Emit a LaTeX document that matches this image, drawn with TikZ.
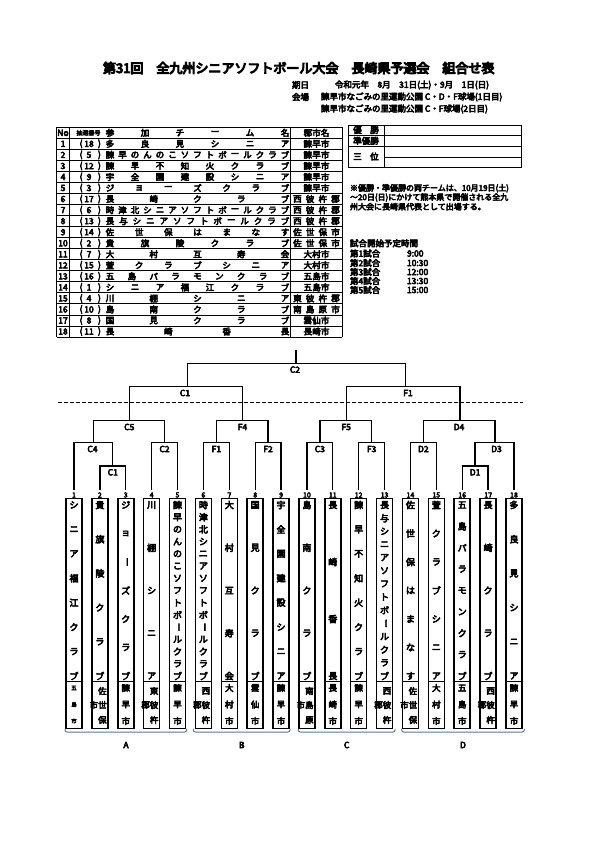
\documentclass[tikz,border=0pt]{standalone}
\usepackage{fontspec}
\usepackage{graphicx}
\setmainfont{Noto Sans CJK JP}[FakeBold=6]
\newfontfamily\ttlfont{Noto Sans CJK JP}[FakeBold=8]
\definecolor{brc}{RGB}{84,120,170}
\newcommand\vb{\rotatebox[origin=c]{-90}{ー}}
% team column: #1 index, #2 x, #3 n chars, #4 char list
\newcommand\teamcol[4]{%
  \coordinate (t#1) at (#2,490);
  \node[numlab] (n#1) at (#2,495) {#1};
  \draw[boxline] (#2-8,498.5) rectangle (#2+8,728.3);
  \draw[boxline] (#2-8,681.7) -- (#2+8,681.7);
  \foreach \ch [count=\k] in {#4} {
    \pgfmathsetmacro\yy{505+(\k-1)*171/(#3-1)}
    \node[vch] (v#1-\k) at (#2,\yy) {\ch};
  }%
}
% 3-char city in team box
\newcommand\cityA[5]{%
  \node[cch] (ca#1-1) at (#2,688) {#3};
  \node[cch] (ca#1-2) at (#2,704.5) {#4};
  \node[cch] (ca#1-3) at (#2,721) {#5};
}
% 4-char city in team box (two vertical columns)
\newcommand\cityB[6]{%
  \node[cch] (cb#1-1) at (#2+2.5,691) {#3};
  \node[cch] (cb#1-2) at (#2+2.5,705) {#4};
  \node[cch] (cb#1-3) at (#2+2.5,720) {#5};
  \node[cch] (cb#1-4) at (#2-6,705) {#6};
}
% table row: #1 no, #2 draw no, #3 n, #4 chars, #5 m, #6 city chars
\newcommand\trow[6]{%
  \pgfmathsetmacro\ry{127.3+11.04*(#1+0.5)}
  \node[tab] (no#1) at (63,\ry) {#1};
  \node[tab] (po#1) at (81,\ry) {(};
  \node[tab] (dn#1) at (89,\ry) {#2};
  \node[tab] (pc#1) at (99.5,\ry) {)};
  \foreach \ch [count=\k] in {#4} {
    \pgfmathsetmacro\xx{110+(\k-1)*175/(#3-1)}
    \node[tab] (tn#1-\k) at (\xx,\ry) {\ch};
  }
  \foreach \ch [count=\k] in {#6} {
    \pgfmathsetmacro\xx{316.5+(\k-(#5+1)/2)*ifthenelse(#5==4,12.7,8.7)}
    \node[tab] (tc#1-\k) at (\xx,\ry) {\ch};
  }%
}
\begin{document}
\begin{tikzpicture}[x=1pt,y=-1pt,
  every node/.style={inner sep=0pt,outer sep=0pt},
  ttl/.style={font=\fontsize{13}{13}\selectfont\ttlfont,anchor=west},
  info/.style={font=\fontsize{8.5}{8.5}\selectfont,anchor=west},
  notetxt/.style={font=\fontsize{8}{8}\selectfont,anchor=west},
  tab/.style={font=\fontsize{8.5}{8.5}\selectfont},
  tabsm/.style={font=\fontsize{6}{6}\selectfont},
  vch/.style={font=\fontsize{9}{9}\selectfont},
  cch/.style={font=\fontsize{8.5}{8.5}\selectfont},
  cchsm/.style={font=\fontsize{5.5}{5.5}\selectfont},
  numlab/.style={font=\fontsize{7}{7}\selectfont},
  mlab/.style={font=\fontsize{8.5}{8.5}\selectfont},
  br/.style={line width=1.3pt},
  boxline/.style={line width=1.5pt},
  tline/.style={line width=0.9pt},
  bluebrace/.style={draw=brc,line width=1pt,rounded corners=2pt},
  dayline/.style={line width=1.2pt,dash pattern=on 4pt off 2pt}]
\fill[white] (0,0) rectangle (595,842);
\useasboundingbox (0,0) rectangle (595,842);

% ---------- title ----------
\node[ttl] (title) at (103,68) {第31回　全九州シニアソフトボール大会　長崎県予選会　組合せ表};
\node[info] (kijitsu) at (292,85) {期日};
\node[info] (date) at (335,85) {令和元年　8月　31日(土)・9月　1日(日)};
\node[info] (kaijo) at (292,97) {会場};
\node[info] (venue1) at (321,97) {諫早市なごみの里運動公園 C・D・F球場(1日目)};
\node[info] (venue2) at (321,109) {諫早市なごみの里運動公園 C・F球場(2日目)};

% ---------- team table ----------
\foreach \i in {0,...,19} {\draw[tline] (56.7,127.3+11.04*\i) -- (342,127.3+11.04*\i);}
\foreach \xv in {56.7,69,290,342} {\draw[tline] (\xv,127.3) -- (\xv,337.06);}
\node[tab] (hno) at (63,132.82) {No};
\node[tabsm] (hdraw) at (88.5,132.82) {抽選番号};
\foreach \ch [count=\k] in {参,加,チ,ー,ム,名} {
  \pgfmathsetmacro\xx{110+(\k-1)*35}
  \node[tab] (hn\k) at (\xx,132.82) {\ch};
}
\node[tab] (hcity) at (316.5,132.82) {郡市名};
\trow{1}{18}{6}{多,良,見,シ,ニ,ア}{3}{諫,早,市}
\trow{2}{5}{15}{諫,早,の,ん,の,こ,ソ,フ,ト,ボ,ー,ル,ク,ラ,ブ}{3}{諫,早,市}
\trow{3}{12}{8}{諫,早,不,知,火,ク,ラ,ブ}{3}{諫,早,市}
\trow{4}{9}{8}{宇,全,園,建,設,シ,ニ,ア}{3}{諫,早,市}
\trow{5}{3}{7}{ジ,ョ,ー,ズ,ク,ラ,ブ}{3}{諫,早,市}
\trow{6}{17}{5}{長,崎,ク,ラ,ブ}{4}{西,彼,杵,郡}
\trow{7}{6}{15}{時,津,北,シ,ニ,ア,ソ,フ,ト,ボ,ー,ル,ク,ラ,ブ}{4}{西,彼,杵,郡}
\trow{8}{13}{14}{長,与,シ,ニ,ア,ソ,フ,ト,ボ,ー,ル,ク,ラ,ブ}{4}{西,彼,杵,郡}
\trow{9}{14}{7}{佐,世,保,は,ま,な,す}{4}{佐,世,保,市}
\trow{10}{2}{6}{貴,旗,陵,ク,ラ,ブ}{4}{佐,世,保,市}
\trow{11}{7}{5}{大,村,互,寿,会}{3}{大,村,市}
\trow{12}{15}{7}{萱,ク,ラ,ブ,シ,ニ,ア}{3}{大,村,市}
\trow{13}{16}{9}{五,島,パ,ラ,モ,ン,ク,ラ,ブ}{3}{五,島,市}
\trow{14}{1}{8}{シ,ニ,ア,福,江,ク,ラ,ブ}{3}{五,島,市}
\trow{15}{4}{5}{川,棚,シ,ニ,ア}{4}{東,彼,杵,郡}
\trow{16}{10}{5}{島,南,ク,ラ,ブ}{4}{南,島,原,市}
\trow{17}{8}{5}{国,見,ク,ラ,ブ}{3}{雲,仙,市}
\trow{18}{11}{4}{長,崎,香,長}{3}{長,崎,市}

% ---------- result box ----------
\draw[tline] (348.3,125) rectangle (521.7,167);
\draw[tline] (348.3,135) -- (521.7,135);
\draw[tline] (348.3,146.5) -- (521.7,146.5);
\draw[tline] (384,157) -- (521.7,157);
\draw[tline] (384,125) -- (384,167);
\node[tab] (win) at (366,130) {優　勝};
\node[tab] (second) at (366,140.8) {準優勝};
\node[tab] (third) at (366,156.5) {三　位};

% ---------- notes ----------
\node[notetxt] (note1) at (350,188.3) {※優勝・準優勝の両チームは、10月19日(土)};
\node[notetxt] (note2) at (350,197.5) {～20日(日)にかけて熊本県で開催される全九};
\node[notetxt] (note3) at (350,206.7) {州大会に長崎県代表として出場する。};
\node[info] (sched) at (350,243.3) {試合開始予定時間};
\node[info] (g1) at (350,253.5) {第1試合};
\node[info] (g2) at (350,263) {第2試合};
\node[info] (g3) at (350,272) {第3試合};
\node[info] (g4) at (350,281) {第4試合};
\node[info] (g5) at (350,290) {第5試合};
\node[info] (h1) at (407,253.5) {9:00};
\node[info] (h2) at (407,263) {10:30};
\node[info] (h3) at (407,272) {12:00};
\node[info] (h4) at (407,281) {13:30};
\node[info] (h5) at (407,290) {15:00};

% ---------- team columns ----------
\teamcol{1}{74}{8}{シ,ニ,ア,福,江,ク,ラ,ブ}
\teamcol{2}{99.88}{6}{貴,旗,陵,ク,ラ,ブ}
\teamcol{3}{125.76}{7}{ジ,ョ,\vb,ズ,ク,ラ,ブ}
\teamcol{4}{151.64}{5}{川,棚,シ,ニ,ア}
\teamcol{5}{177.52}{15}{諫,早,の,ん,の,こ,ソ,フ,ト,ボ,\vb,ル,ク,ラ,ブ}
\teamcol{6}{203.4}{15}{時,津,北,シ,ニ,ア,ソ,フ,ト,ボ,\vb,ル,ク,ラ,ブ}
\teamcol{7}{229.28}{5}{大,村,互,寿,会}
\teamcol{8}{255.16}{5}{国,見,ク,ラ,ブ}
\teamcol{9}{281.04}{8}{宇,全,園,建,設,シ,ニ,ア}
\teamcol{10}{306.92}{5}{島,南,ク,ラ,ブ}
\teamcol{11}{332.8}{4}{長,崎,香,長}
\teamcol{12}{358.68}{8}{諫,早,不,知,火,ク,ラ,ブ}
\teamcol{13}{384.56}{14}{長,与,シ,ニ,ア,ソ,フ,ト,ボ,\vb,ル,ク,ラ,ブ}
\teamcol{14}{410.44}{7}{佐,世,保,は,ま,な,す}
\teamcol{15}{436.32}{7}{萱,ク,ラ,ブ,シ,ニ,ア}
\teamcol{16}{462.2}{9}{五,島,パ,ラ,モ,ン,ク,ラ,ブ}
\teamcol{17}{488.08}{5}{長,崎,ク,ラ,ブ}
\teamcol{18}{513.96}{6}{多,良,見,シ,ニ,ア}

% cities in boxes
\node[cchsm] (ca1-1) at (74,688) {五};
\node[cchsm] (ca1-2) at (74,704.5) {島};
\node[cchsm] (ca1-3) at (74,721) {市};
\cityB{2}{99.88}{佐}{世}{保}{市}
\cityA{3}{125.76}{諫}{早}{市}
\cityB{4}{151.64}{東}{彼}{杵}{郡}
\cityA{5}{177.52}{諫}{早}{市}
\cityB{6}{203.4}{西}{彼}{杵}{郡}
\cityA{7}{229.28}{大}{村}{市}
\cityA{8}{255.16}{雲}{仙}{市}
\cityA{9}{281.04}{諫}{早}{市}
\cityB{10}{306.92}{南}{島}{原}{市}
\cityA{11}{332.8}{長}{崎}{市}
\cityA{12}{358.68}{諫}{早}{市}
\cityB{13}{384.56}{西}{彼}{杵}{郡}
\cityB{14}{410.44}{佐}{世}{保}{市}
\cityA{15}{436.32}{大}{村}{市}
\cityA{16}{462.2}{五}{島}{市}
\cityB{17}{488.08}{西}{彼}{杵}{郡}
\cityA{18}{513.96}{諫}{早}{市}

% ---------- bracket ----------
\coordinate (mC1a) at (112.82,466);
\coordinate (mC4) at (93.41,442.7);
\coordinate (mC2a) at (164.58,442.7);
\coordinate (mC5) at (129.3,420.7);
\coordinate (mF1a) at (216.34,442.7);
\coordinate (mF2) at (268.1,442.7);
\coordinate (mF4) at (242.5,420.7);
\coordinate (mC3) at (319.86,442.7);
\coordinate (mF3) at (371.62,442.7);
\coordinate (mF5) at (346.2,420.7);
\coordinate (mD2) at (423.38,442.7);
\coordinate (mD1) at (475.14,466);
\coordinate (mD3) at (495,442.7);
\coordinate (mD4) at (460,420.7);
\coordinate (mC1b) at (187.5,386.7);
\coordinate (mF1b) at (405.5,386.7);
\coordinate (mC2b) at (296,363.3);
\coordinate (top) at (296,350);

\draw[br] (t2) |- (mC1a) -| (t3);
\draw[br] (t1) |- (mC4) -| (mC1a);
\draw[br] (t4) |- (mC2a) -| (t5);
\draw[br] (mC4) |- (mC5) -| (mC2a);
\draw[br] (t6) |- (mF1a) -| (t7);
\draw[br] (t8) |- (mF2) -| (t9);
\draw[br] (mF1a) |- (mF4) -| (mF2);
\draw[br] (t10) |- (mC3) -| (t11);
\draw[br] (t12) |- (mF3) -| (t13);
\draw[br] (mC3) |- (mF5) -| (mF3);
\draw[br] (t14) |- (mD2) -| (t15);
\draw[br] (t16) |- (mD1) -| (t17);
\draw[br] (mD1) |- (mD3) -| (t18);
\draw[br] (mD2) |- (mD4) -| (mD3);
\draw[br] (mC5) |- (mC1b) -| (mF4);
\draw[br] (mF5) |- (mF1b) -| (mD4);
\draw[br] (mC1b) |- (mC2b) -| (mF1b);
\draw[br] (mC2b) -- (top);

\node[mlab] (lC1a) at (112.82,472.3) {C1};
\node[mlab] (lC4) at (92.5,449) {C4};
\node[mlab] (lC2a) at (164.58,449) {C2};
\node[mlab] (lC5) at (129.3,427) {C5};
\node[mlab] (lF1a) at (216.34,449) {F1};
\node[mlab] (lF2) at (268.1,449) {F2};
\node[mlab] (lF4) at (242.5,427) {F4};
\node[mlab] (lC3) at (319.86,449) {C3};
\node[mlab] (lF3) at (371.62,449) {F3};
\node[mlab] (lF5) at (346.2,427) {F5};
\node[mlab] (lD2) at (423.38,449) {D2};
\node[mlab] (lD1) at (475.14,472.3) {D1};
\node[mlab] (lD3) at (496.5,449) {D3};
\node[mlab] (lD4) at (459,427) {D4};
\node[mlab] (lC1b) at (185,393) {C1};
\node[mlab] (lF1b) at (408,393) {F1};
\node[mlab] (lC2b) at (295,369.6) {C2};

% day divider
\coordinate (dl) at (58,402.7);
\coordinate (dr) at (523,402.7);
\draw[dayline] (dl) -- (dr);

% ---------- group braces ----------
\draw[bluebrace] (65,728.8) -- (65,732) -- (186.7,732) -- (186.7,728.8);
\draw[bluebrace] (193.3,728.8) -- (193.3,732) -- (290,732) -- (290,728.8);
\draw[bluebrace] (298.3,728.8) -- (298.3,732) -- (395,732) -- (395,728.8);
\draw[bluebrace] (401.7,728.8) -- (401.7,732) -- (524.3,732) -- (524.3,728.8);
\node[mlab] (gA) at (126,745) {A};
\node[mlab] (gB) at (241.7,745) {B};
\node[mlab] (gC) at (346.7,745) {C};
\node[mlab] (gD) at (463,745) {D};
\end{tikzpicture}
\end{document}
